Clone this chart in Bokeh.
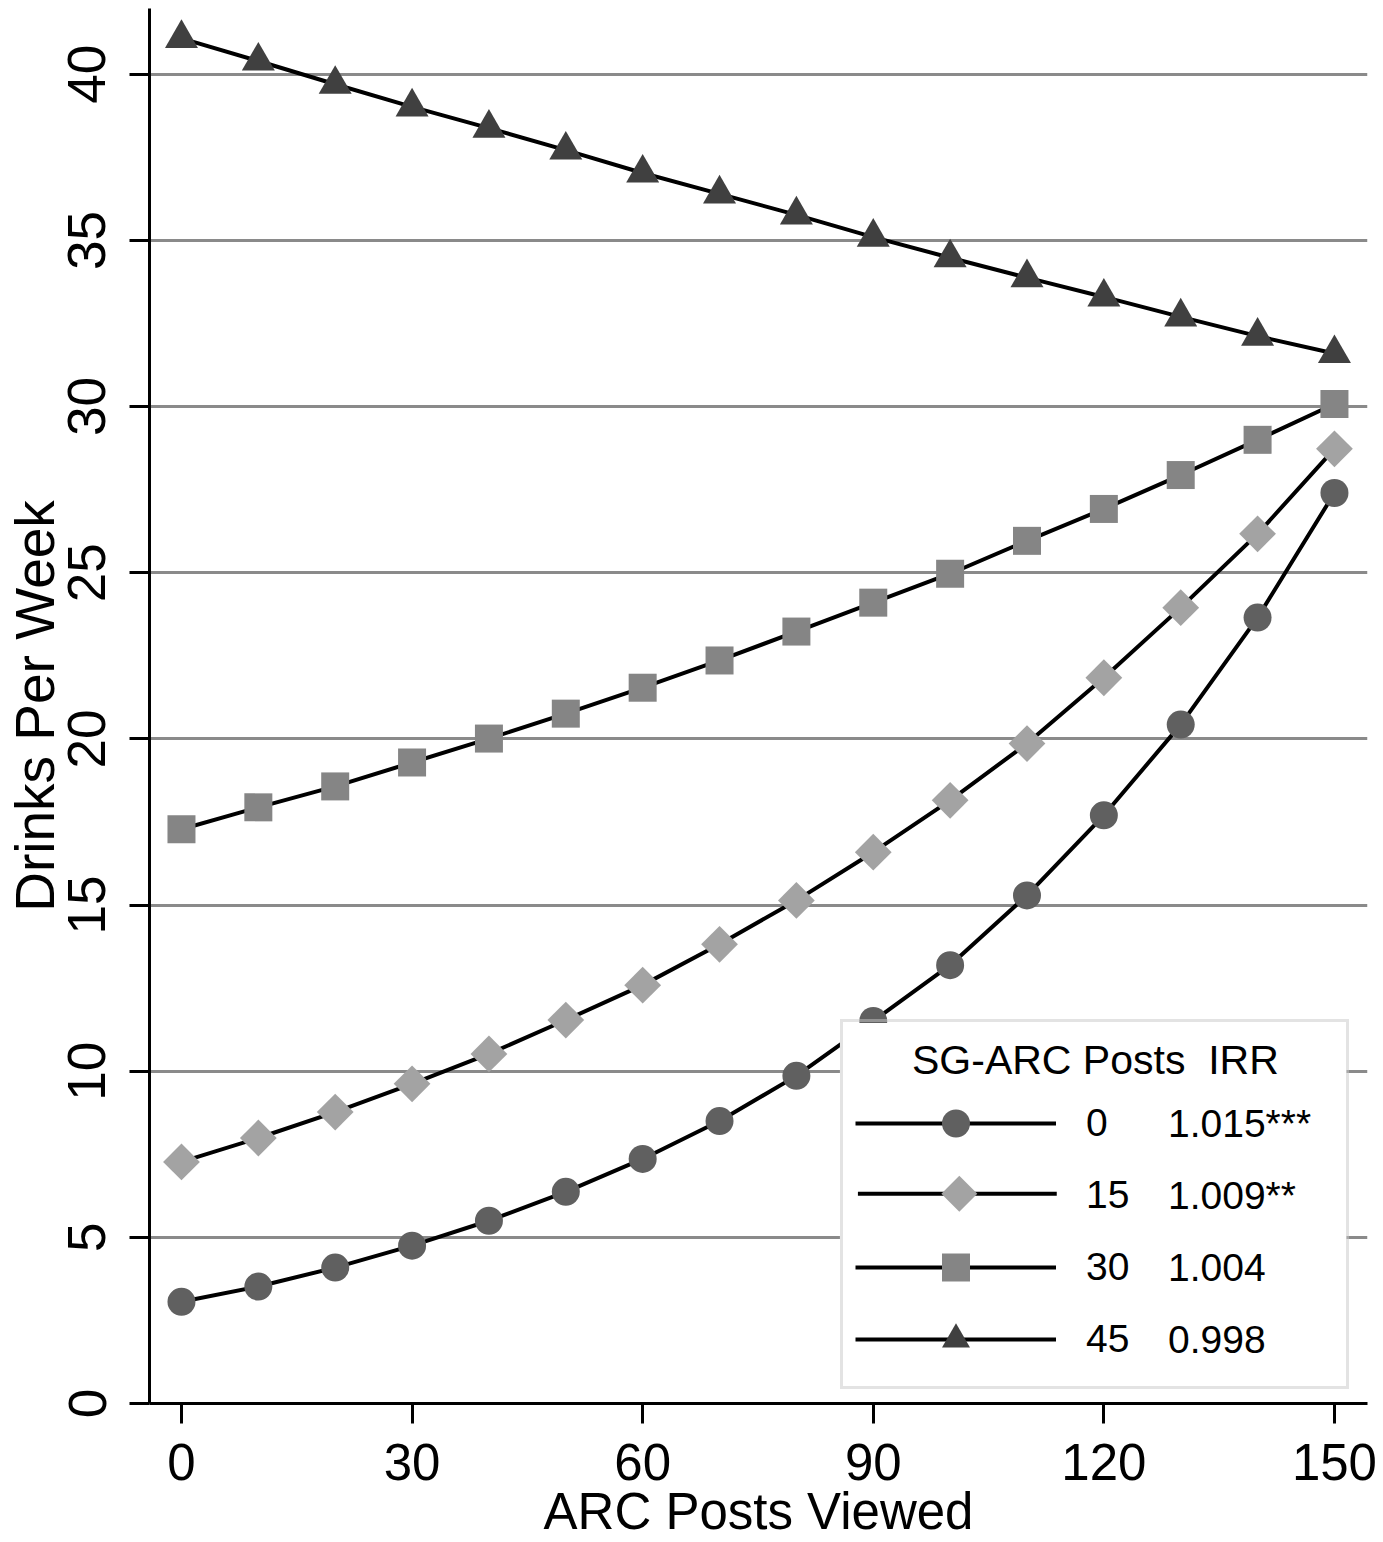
from bokeh.plotting import figure
from bokeh.models import (Range1d, Legend, LegendItem, FixedTicker, PolyAnnotation,
                          BoxAnnotation)
from bokeh.embed import file_html
from bokeh.resources import INLINE
import math

# ---- data ----
arc_posts = [0, 10, 20, 30, 40, 50, 60, 70, 80, 90, 100, 110, 120, 130, 140, 150]
sg0 = [3.06, 3.52, 4.09, 4.75, 5.50, 6.37, 7.36, 8.50, 9.86, 11.51, 13.19, 15.29, 17.70, 20.43, 23.65, 27.40]
sg15 = [7.27, 7.99, 8.77, 9.62, 10.52, 11.54, 12.59, 13.82, 15.14, 16.59, 18.15, 19.86, 21.84, 23.95, 26.17, 28.73]
sg30 = [17.28, 17.94, 18.57, 19.29, 20.01, 20.76, 21.54, 22.36, 23.23, 24.10, 24.97, 25.96, 26.92, 27.94, 29.00, 30.08]
sg45 = [41.08, 40.40, 39.70, 39.02, 38.38, 37.72, 37.03, 36.40, 35.77, 35.10, 34.48, 33.88, 33.30, 32.70, 32.12, 31.60]
series_labels = ["0", "15", "30", "45"]
irr_labels = ["1.015***", "1.009**", "1.004", "0.998"]
legend_title = "SG-ARC Posts  IRR"
x_ticks = [0, 30, 60, 90, 120, 150]
y_ticks = [0, 5, 10, 15, 20, 25, 30, 35, 40]

FONT = "Liberation Sans"
W, H = 1383, 1542
BL, BR, BT, BB = 148, 16, 8, 137
XS, XE, YS, YE = -4.16, 154.3, 0.0, 41.98
FW, FH = W - BL - BR, H - BT - BB


def sx2d(sx):
    return XS + sx * (XE - XS) / FW


def sy2d(sy):
    return YS + sy * (YE - YS) / FH


p = figure(width=W, height=H,
           x_range=Range1d(XS, XE), y_range=Range1d(YS, YE),
           output_backend="svg", toolbar_location=None,
           min_border_left=BL, min_border_right=BR,
           min_border_top=BT, min_border_bottom=BB)
p.outline_line_color = None
p.background_fill_color = "white"
p.border_fill_color = "white"

p.xgrid.visible = False
p.ygrid.grid_line_color = "#8a8a8a"
p.ygrid.grid_line_width = 3
p.ygrid.ticker = FixedTicker(ticks=y_ticks)

for ax in (p.xaxis[0], p.yaxis[0]):
    ax.axis_line_width = 3
    ax.axis_line_color = "black"
    ax.major_tick_line_width = 3
    ax.major_tick_line_color = "black"
    ax.major_tick_out = 20
    ax.major_tick_in = 0
    ax.minor_tick_line_color = None
    ax.major_label_text_font = FONT
    ax.major_label_text_color = "black"
    ax.axis_label_text_font = FONT
    ax.axis_label_text_font_style = "normal"
    ax.axis_label_text_color = "black"

p.xaxis.ticker = FixedTicker(ticks=x_ticks)
p.yaxis.ticker = FixedTicker(ticks=y_ticks)
p.xaxis.axis_label = "ARC Posts Viewed"
p.yaxis.axis_label = "Drinks Per Week"
p.xaxis.major_label_text_font_size = "51px"
p.yaxis.major_label_text_font_size = "53px"
p.xaxis.axis_label_text_font_size = "51px"
p.yaxis.axis_label_text_font_size = "55px"
p.yaxis.major_label_orientation = "vertical"
p.xaxis.major_label_standoff = 20
p.yaxis.major_label_standoff = 24
p.xaxis.axis_label_standoff = 0
p.yaxis.axis_label_standoff = 0

LW = 4
r0l = p.line(arc_posts, sg0, line_color="black", line_width=LW)
r0s = p.scatter(arc_posts, sg0, marker="circle", size=28, fill_color="#606060", line_color=None)
r15l = p.line(arc_posts, sg15, line_color="black", line_width=LW)
r15s = p.scatter(arc_posts, sg15, marker="square", angle=math.pi / 4, size=26,
                 fill_color="#a3a3a3", line_color=None)
# transparent stand-in used only as the "15" legend entry (its key is drawn below)
r15k = p.scatter(arc_posts, sg15, marker="circle", size=1, fill_alpha=0.0, line_alpha=0.0)
r30l = p.line(arc_posts, sg30, line_color="black", line_width=LW)
r30s = p.scatter(arc_posts, sg30, marker="square", size=28, fill_color="#858585", line_color=None)
r45l = p.line(arc_posts, sg45, line_color="black", line_width=LW)
r45s = p.scatter(arc_posts, sg45, marker="triangle", size=33, fill_color="#404040", line_color=None)

# ---- legend geometry (screen px, from the frame's bottom-left) ----
LEG_X, LEG_Y, PAD, GH, SP, GW = 691, 14, 12, 70, 2, 201
BOX_W, BOX_H = 507, 367

# white legend background (under the legend keys)
p.add_layout(BoxAnnotation(left=sx2d(LEG_X), right=sx2d(LEG_X + BOX_W),
                           bottom=sy2d(LEG_Y), top=sy2d(LEG_Y + BOX_H),
                           fill_color="white", fill_alpha=1.0, line_color=None))

n = len(series_labels)
row_c = [LEG_Y + PAD + GH / 2 + 5 + (n - 1 - i) * (GH + SP) for i in range(n)]
kx0, kx1 = LEG_X + PAD + 6, LEG_X + PAD + GW + 4
cx = (kx0 + kx1) / 2 + 2
cy = row_c[1]
hd = 18
# "15" key: line then diamond on top
p.add_layout(BoxAnnotation(left=sx2d(kx0), right=sx2d(kx1),
                           bottom=sy2d(cy - LW / 2), top=sy2d(cy + LW / 2),
                           fill_color="black", fill_alpha=1.0, line_color=None))
p.add_layout(PolyAnnotation(xs=[sx2d(cx - hd), sx2d(cx), sx2d(cx + hd), sx2d(cx)],
                            ys=[sy2d(cy), sy2d(cy + hd), sy2d(cy), sy2d(cy - hd)],
                            fill_color="#a3a3a3", fill_alpha=1.0, line_color=None))

common = dict(orientation="vertical", glyph_height=GH, spacing=SP, padding=PAD, margin=0,
              label_text_font=FONT, label_text_color="black", label_text_font_size="39px",
              title="\u00a0", title_text_font=FONT, title_text_font_size="40px",
              title_standoff=9)

renderer_sets = [[r0l, r0s], [r15k], [r30l, r30s], [r45l, r45s]]
items = [LegendItem(label=lab, renderers=rs) for lab, rs in zip(series_labels, renderer_sets)]
legend = Legend(items=items, location=(LEG_X, LEG_Y), glyph_width=GW,
                label_standoff=30, label_width=248,
                border_line_color="#c8c8c8", border_line_width=3,
                background_fill_alpha=0.0, **common)
p.add_layout(legend)

# IRR column
irr_items = [LegendItem(label=t, renderers=[r0s]) for t in irr_labels]
irr_legend = Legend(items=irr_items, location=(LEG_X + 328, LEG_Y + 14), glyph_width=0,
                    label_standoff=0,
                    border_line_color=None, background_fill_alpha=0.0, **common)
p.add_layout(irr_legend)

# legend heading
head_legend = Legend(items=[LegendItem(label=legend_title, renderers=[r0s])],
                     location=(LEG_X + 72, LEG_Y + BOX_H - 63), orientation="vertical",
                     glyph_width=0, glyph_height=50, padding=0, margin=0, label_standoff=0,
                     label_text_font=FONT, label_text_font_size="41px",
                     label_text_color="black",
                     border_line_color=None, background_fill_alpha=0.0)
p.add_layout(head_legend)

open("out.html", "w").write(file_html(p, INLINE))
